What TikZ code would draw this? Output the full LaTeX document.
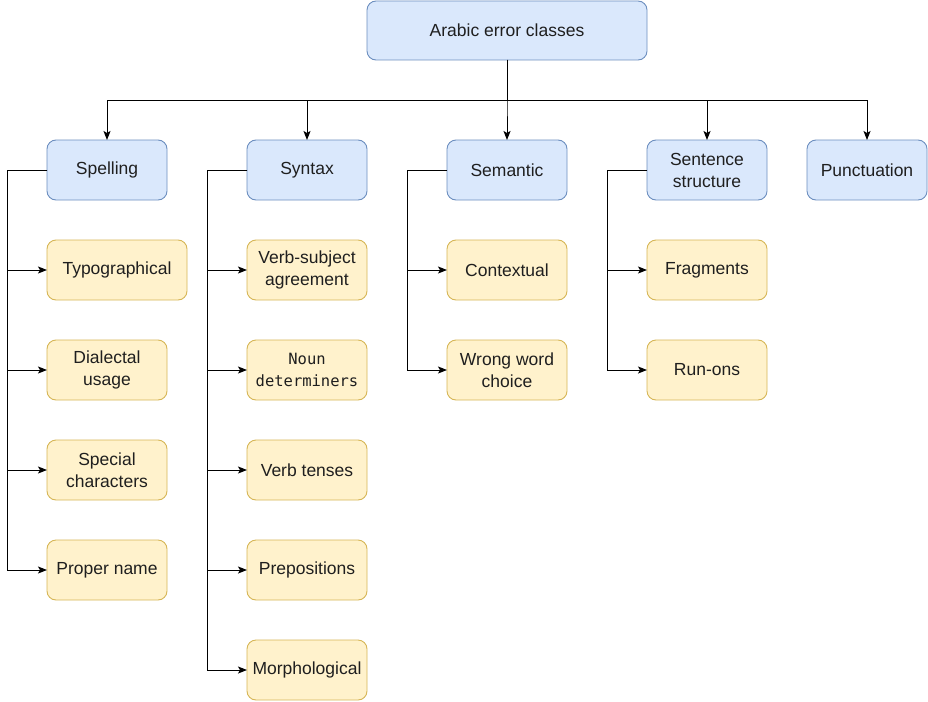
\documentclass[tikz,border=0pt]{standalone}
\usepackage{fontspec}
\setmainfont{Liberation Sans}
\newfontfamily\mymono{DejaVu Sans Mono}
\usetikzlibrary{arrows.meta}
\definecolor{bluefill}{HTML}{DAE8FC}
\definecolor{bluedraw}{HTML}{6C8EBF}
\definecolor{yelfill}{HTML}{FFF2CC}
\definecolor{yeldraw}{HTML}{D6B656}
\definecolor{txt}{HTML}{1F1F1F}
\begin{document}
\begin{tikzpicture}[x=1pt,y=-1pt,
  box/.style={rectangle, rounded corners=9pt, line width=0.9pt, inner sep=0pt, outer sep=0pt,
    minimum width=120pt, minimum height=60pt, align=center, text=txt,
    font=\fontsize{17.5}{22}\selectfont},
  cls/.style={box, fill=bluefill, draw=bluedraw},
  sub/.style={box, fill=yelfill, draw=yeldraw},
  arr/.style={draw=black, line width=1pt, -{Stealth[length=9pt,width=7pt,inset=2pt]}}
]
\useasboundingbox (0,0) rectangle (928,701);

\node[cls, minimum width=280pt, minimum height=59pt] (root) at (507,30.5) {Arabic error classes};

\node[cls] (spell) at (107,170) {Spelling};
\node[cls] (syn) at (307,170) {Syntax};
\node[cls] (sem) at (507,170) {Semantic};
\node[cls] (sent) at (707,170) {Sentence\\structure};
\node[cls] (punc) at (867,170) {Punctuation};

\node[sub, minimum width=140pt] (typo) at (117,270) {Typographical};
\node[sub] (dial) at (107,370) {Dialectal\\usage};
\node[sub] (spec) at (107,470) {Special\\characters};
\node[sub] (prop) at (107,570) {Proper name};

\node[sub] (vsa) at (307,270) {Verb-subject\\agreement};
\node[sub, font={\mymono\fontsize{15.5}{22}\selectfont}] (noun) at (307,370) {Noun\\determiners};
\node[sub] (tense) at (307,470) {Verb tenses};
\node[sub] (prep) at (307,570) {Prepositions};
\node[sub] (morph) at (307,670) {Morphological};

\node[sub] (ctx) at (507,270) {Contextual};
\node[sub] (wwc) at (507,370) {Wrong word\\choice};

\node[sub] (frag) at (707,270) {Fragments};
\node[sub] (run) at (707,370) {Run-ons};

\foreach \c in {spell,syn,sem,sent,punc}
  \draw[arr] (root.south) -- ++(0,40) -| (\c.north);

\foreach \c in {typo,dial,spec,prop}
  \draw[arr] (spell.west) -- ++(-40,0) |- (\c.west);
\foreach \c in {vsa,noun,tense,prep,morph}
  \draw[arr] (syn.west) -- ++(-40,0) |- (\c.west);
\foreach \c in {ctx,wwc}
  \draw[arr] (sem.west) -- ++(-40,0) |- (\c.west);
\foreach \c in {frag,run}
  \draw[arr] (sent.west) -- ++(-40,0) |- (\c.west);
\end{tikzpicture}
\end{document}
